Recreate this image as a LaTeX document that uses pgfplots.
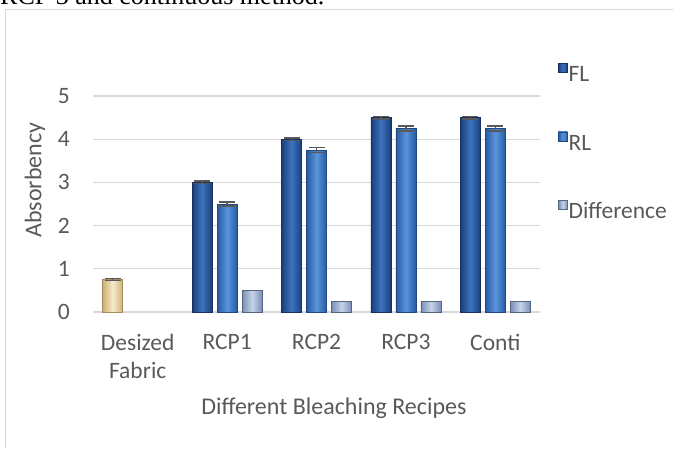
\documentclass[border=0pt]{standalone}
\usepackage{pgfplots}
\pgfplotsset{compat=1.18}
\usepackage{fontspec}
\setmainfont{Carlito}
\newfontfamily\timesfont{Liberation Serif}
\definecolor{txtgray}{HTML}{595959}
\definecolor{gridgray}{HTML}{D9D9D9}
\definecolor{framegray}{HTML}{D9D9D9}
\definecolor{flA}{HTML}{1A3F78}
\definecolor{flB}{HTML}{3C74C0}
\definecolor{rlA}{HTML}{275AA3}
\definecolor{rlB}{HTML}{5A96DC}
\definecolor{dfA}{HTML}{7A8FB5}
\definecolor{dfB}{HTML}{C6D3EA}
\definecolor{tnA}{HTML}{CDB176}
\definecolor{tnB}{HTML}{F7EBCB}
\pgfplotsset{
  flbar/.style={bar shift=-25pt, draw=flA!80!black, left color=flA, right color=flA, middle color=flB},
  rlbar/.style={bar shift=0pt, draw=rlA!80!black, left color=rlA, right color=rlA, middle color=rlB},
  dfbar/.style={bar shift=25pt, draw=dfA!70!black, left color=dfA, right color=dfA, middle color=dfB, error bars/y dir=none},
  tnbar/.style={bar shift=-25pt, draw=tnA!80!black, left color=tnA, right color=tnA, middle color=tnB},
}
\begin{document}
\begin{tikzpicture}[x=1pt,y=1pt]
\useasboundingbox (0,0) rectangle (673,448);
\begin{scope}
\clip (0,0) rectangle (673,448);
\node[anchor=base west, inner sep=0pt, font=\timesfont\fontsize{26}{30}\selectfont] at (0,443) {RCP 3 and continuous method.};
\end{scope}
\draw[framegray, line width=1.5pt] (5.5,0) -- (5.5,438.5) -- (673,438.5);
\begin{axis}[
  at={(93pt,136pt)}, anchor=south west,
  scale only axis, width=447pt, height=216pt,
  xmin=-0.5, xmax=4.5, ymin=0, ymax=5,
  ybar, bar width=20pt,
  axis x line*=bottom, axis y line*=left,
  x axis line style={gridgray, line width=1.3pt, -},
  y axis line style={draw=none},
  ymajorgrids, grid style={gridgray, line width=1.3pt},
  major tick length=0pt,
  xtick={0,1,2,3,4}, xticklabels={{Desized\\Fabric},RCP1,RCP2,RCP3,Conti},
  ytick={0,1,2,3,4,5},
  /pgf/number format/assume math mode=true,
  tick label style={font=\fontsize{23.5}{28}\selectfont, text=txtgray, inner sep=0pt},
  xticklabel style={align=center, anchor=north, yshift=-22pt},
  yticklabel style={anchor=east, xshift=-23pt},
  xlabel={Different Bleaching Recipes},
  ylabel={Absorbency},
  label style={font=\fontsize{24}{28}\selectfont, text=txtgray},
  xlabel style={at={(axis description cs:0.539,-0.444)}, anchor=center, inner sep=0pt},
  ylabel style={at={(axis description cs:-0.13,0.611)}, anchor=center, inner sep=0pt},
  legend style={at={(axis description cs:1.0336,1.162)}, anchor=north west, draw=none, fill=none,
    font=\fontsize{23.5}{28}\selectfont, text=txtgray,
    nodes={inner sep=0pt, text height=17pt, text depth=5pt},
    row sep=45pt, column sep=1pt},
  legend cell align=left,
  legend image code/.code={\path[#1] (0pt,3.2pt) rectangle (9pt,12.2pt);},
  error bars/y dir=both, error bars/y explicit,
  error bars/error bar style={txtgray, line width=1.5pt},
  error bars/error mark options={rotate=90, mark size=8pt, line width=1.5pt, txtgray},
]
% FL
\addplot[flbar] coordinates {(1,3.0) +- (0,0.03)};
\addlegendentry{FL}
% RL
\addplot[rlbar] coordinates {(1,2.5) +- (0,0.05)};
\addlegendentry{RL}
% Difference
\addplot[dfbar] coordinates {(1,0.5)};
\addlegendentry{Difference}
\addplot[flbar, forget plot] coordinates {(2,4.0) +- (0,0.03)};
\addplot[flbar, forget plot] coordinates {(3,4.5) +- (0,0.03)};
\addplot[flbar, forget plot] coordinates {(4,4.5) +- (0,0.03)};
\addplot[rlbar, forget plot] coordinates {(2,3.75) +- (0,0.06)};
\addplot[rlbar, forget plot] coordinates {(3,4.25) +- (0,0.06)};
\addplot[rlbar, forget plot] coordinates {(4,4.25) +- (0,0.06)};
\addplot[dfbar, forget plot] coordinates {(2,0.25)};
\addplot[dfbar, forget plot] coordinates {(3,0.25)};
\addplot[dfbar, forget plot] coordinates {(4,0.25)};
% Desized fabric
\addplot[tnbar, forget plot] coordinates {(0,0.75) +- (0,0.02)};
\end{axis}
\end{tikzpicture}
\end{document}
